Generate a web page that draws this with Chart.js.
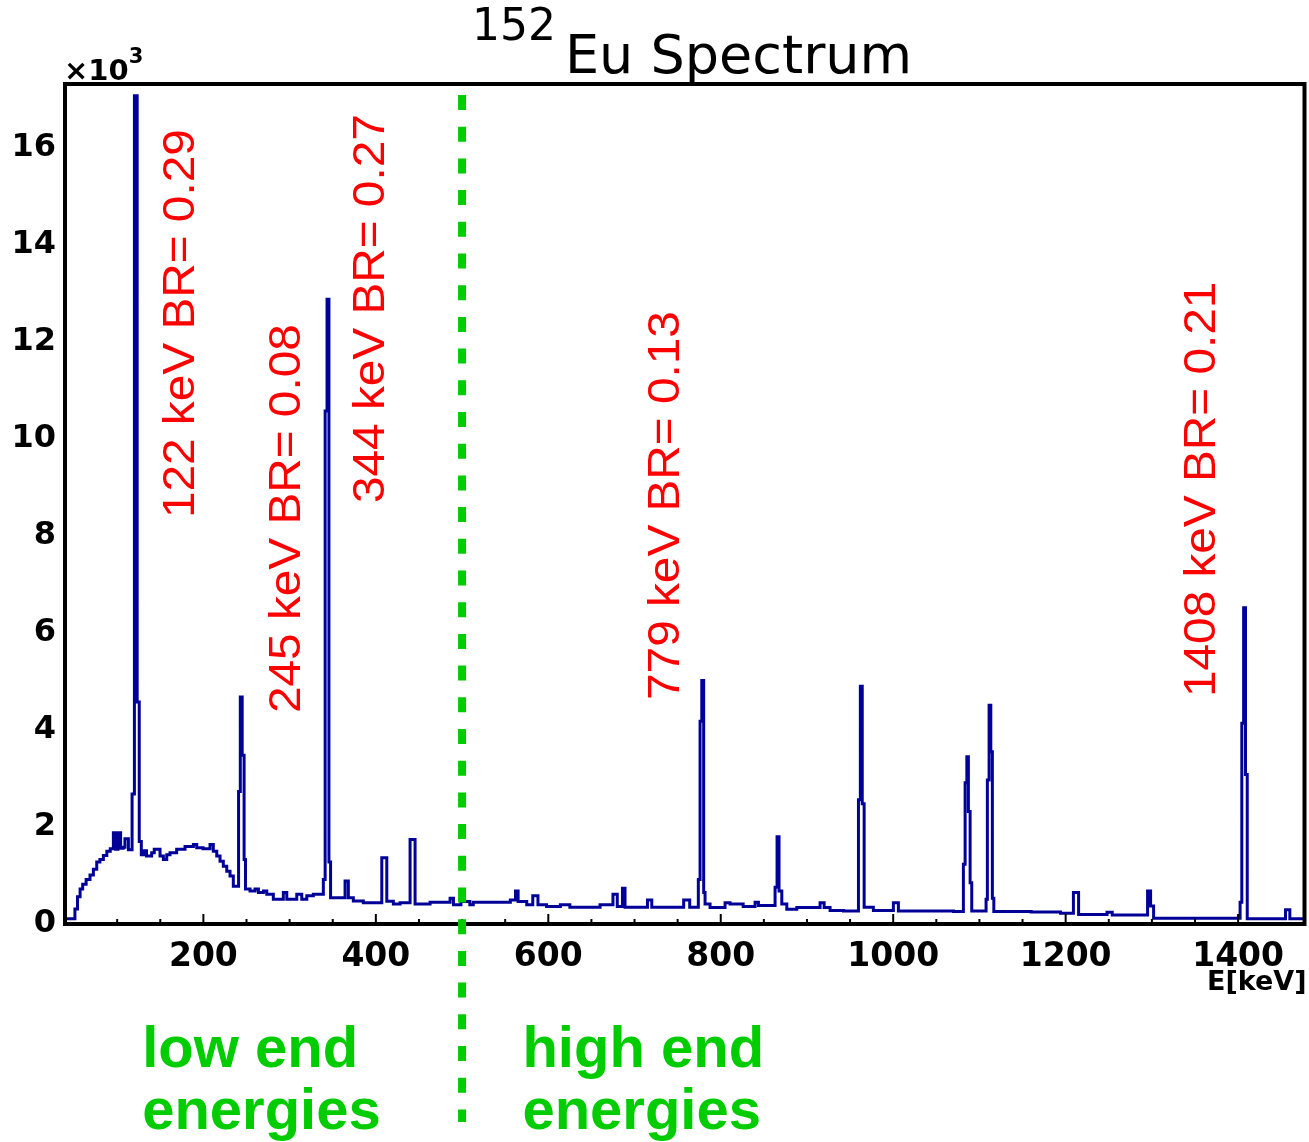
<!DOCTYPE html>
<html>
<head>
<meta charset="utf-8">
<title>152Eu Spectrum</title>
<script src="https://cdn.jsdelivr.net/npm/chart.js@4.4.1/dist/chart.umd.min.js"></script>
<style>
  body { margin: 0; background: #fff; }
  canvas { display: block; }
</style>
</head>
<body>
<canvas id="spectrum" width="1309" height="1142"></canvas>
<script>
// bin left edges [keV] and bin contents [counts]
const energies = [
  39.5, 51, 54, 57, 60, 64, 68.5, 72.4, 76.3, 80,
  84, 88, 92, 95.6, 98, 101, 104, 107, 109, 113,
  117.3, 120, 123.2, 125.6, 128, 131.5, 134, 140, 143, 149.7,
  153.6, 157.5, 161.3, 169, 178.7, 188.4, 192.3, 199.6, 207.7, 211.5,
  215.5, 219.3, 223.1, 227.1, 230.9, 234.7, 240.8, 242.8, 245, 247.2,
  248.8, 254.1, 259.9, 263.8, 269.6, 273.5, 281.1, 292.7, 296.7, 308.3,
  314.1, 319.9, 327.5, 339.1, 341.2, 343.4, 345.6, 347.5, 364.3, 368.1,
  373.9, 385.5, 406.9, 412.7, 420.3, 428.1, 439.7, 445.5, 462.9, 486.1,
  490, 498.7, 509, 513, 556, 562, 565, 575, 582, 588,
  598, 614, 625, 660, 675, 680, 686, 689, 715, 720,
  757, 764, 774, 776, 778, 780.2, 781.8, 787.6, 805, 810.8,
  826, 839.8, 843.7, 863, 865.3, 867.6, 870.8, 876.6, 888.2, 915.2,
  919.9, 926.8, 942.3, 959.7, 961.9, 964.1, 966.3, 977, 1000.2, 1006,
  1070, 1081.4, 1083.4, 1085.4, 1087.2, 1089.2, 1091.1, 1107.7, 1109.2, 1111.2,
  1113.2, 1115, 1116.7, 1160, 1194, 1209, 1215, 1248, 1254, 1295,
  1298.5, 1302, 1402.3, 1404.3, 1406.4, 1408.6, 1410.6, 1455, 1460, 1477,
];
const counts = [
  30, 230, 480, 640, 740, 840, 930, 1050, 1200, 1250,
  1330, 1420, 1470, 1800, 1460, 1800, 1480, 1500, 1680, 1450,
  2600, 17000, 4500, 1620, 1350, 1430, 1320, 1390, 1460, 1320,
  1250, 1350, 1390, 1460, 1520, 1560, 1490, 1470, 1560, 1420,
  1320, 1215, 1110, 1010, 910, 700, 2650, 4600, 3400, 1250,
  640, 600, 640, 570, 600, 535, 430, 570, 430, 535,
  430, 500, 535, 840, 10500, 12800, 1200, 460, 805, 460,
  395, 360, 1285, 390, 330, 360, 1660, 330, 370, 450,
  315, 385, 315, 370, 415, 600, 385, 315, 500, 315,
  280, 315, 265, 315, 535, 280, 655, 265, 415, 265,
  415, 265, 840, 4100, 4940, 570, 330, 260, 360, 330,
  280, 370, 300, 680, 1720, 600, 330, 225, 260, 360,
  260, 200, 190, 2480, 4820, 2400, 265, 200, 360, 190,
  180, 1150, 2830, 3370, 2240, 770, 190, 430, 2890, 4430,
  3470, 450, 180, 165, 140, 570, 115, 160, 105, 600,
  290, 40, 370, 4060, 6440, 3000, 30, 215, 30, 30,
];
const xTickLabels = ["200", "400", "600", "800", "1000", "1200", "1400"];
const yTickLabels = ["0", "2", "4", "6", "8", "10", "12", "14", "16"];
const peakLabels = [
  "122 keV BR= 0.29",
  "245 keV BR= 0.08",
  "344 keV BR= 0.27",
  "779 keV BR= 0.13",
  "1408 keV BR= 0.21",
];
const regionLabels = [["low end", "energies"], ["high end", "energies"]];
const splitEnergy = 500;

const histPoints = energies.map((e, i) => ({ x: e, y: counts[i] }));

// where the rotated peak notes sit, in keV / counts
const peakNotePos = [
  { x: 188.6, y: 8290 },
  { x: 312, y: 4270 },
  { x: 409.5, y: 8600 },
  { x: 751.5, y: 4540 },
  { x: 1373.5, y: 4600 },
];

const boldFont = "'DejaVu Sans', sans-serif";

const rootFramePlugin = {
  id: "rootFrame",
  afterDatasetsDraw(chart) {
    const { ctx, chartArea: area } = chart;
    const xScale = chart.scales.x;
    const yScale = chart.scales.y;
    ctx.save();

    // inward ticks
    ctx.strokeStyle = "#000";
    ctx.lineWidth = 2;
    ctx.beginPath();
    xScale.ticks.forEach((t) => {
      if (t.value % 50 !== 0) return;
      const px = xScale.getPixelForValue(t.value);
      const len = t.value % 200 === 0 ? 10 : 5;
      ctx.moveTo(px, area.bottom);
      ctx.lineTo(px, area.bottom - len);
    });
    yScale.ticks.forEach((t) => {
      if (t.value < 0 || t.value % 500 !== 0) return;
      const py = yScale.getPixelForValue(t.value);
      const len = t.value % 2000 === 0 ? 17 : 9;
      ctx.moveTo(area.left, py);
      ctx.lineTo(area.left + len, py);
    });
    ctx.stroke();

    // frame
    ctx.lineWidth = 4;
    ctx.strokeRect(area.left, area.top, area.right - area.left, area.bottom - area.top);

    // tick labels
    ctx.fillStyle = "#000";
    ctx.font = "bold 33px " + boldFont;
    ctx.textAlign = "center";
    ctx.textBaseline = "alphabetic";
    xTickLabels.forEach((lab) => {
      ctx.fillText(lab, xScale.getPixelForValue(Number(lab)), area.bottom + 42);
    });
    ctx.font = "bold 32px " + boldFont;
    ctx.textAlign = "right";
    yTickLabels.forEach((lab) => {
      ctx.fillText(lab, area.left - 9, yScale.getPixelForValue(Number(lab) * 1000) + 12);
    });

    // x10^3
    ctx.textAlign = "left";
    ctx.font = "bold 29px " + boldFont;
    ctx.fillText("\u00d710", area.left - 1, area.top - 4);
    const w = ctx.measureText("\u00d710").width;
    ctx.font = "bold 21px " + boldFont;
    ctx.fillText("3", area.left - 1 + w, area.top - 21);

    // axis title
    ctx.font = "bold 27px " + boldFont;
    ctx.textAlign = "right";
    ctx.fillText("E[keV]", area.right + 2, area.bottom + 66);

    // title
    ctx.textAlign = "left";
    ctx.font = "44px " + boldFont;
    ctx.fillText("152", 472, 40);
    ctx.font = "54px " + boldFont;
    ctx.fillText("Eu Spectrum", 565, 73);

    // peak notes
    ctx.fillStyle = "#ff0000";
    ctx.font = "44px 'Liberation Sans', Arial, sans-serif";
    peakLabels.forEach((txt, i) => {
      const p = peakNotePos[i];
      ctx.save();
      ctx.translate(xScale.getPixelForValue(p.x), yScale.getPixelForValue(p.y));
      ctx.rotate(-Math.PI / 2);
      ctx.scale(1.085, 1);
      ctx.textAlign = "left";
      ctx.fillText(txt, 0, 0);
      ctx.restore();
    });

    // split line
    const sx = xScale.getPixelForValue(splitEnergy);
    ctx.strokeStyle = "#00cc00";
    ctx.lineWidth = 8;
    ctx.setLineDash([15, 16.7]);
    ctx.beginPath();
    ctx.moveTo(sx, area.top + 11);
    ctx.lineTo(sx, chart.height - 20);
    ctx.stroke();
    ctx.setLineDash([]);

    // region notes
    ctx.fillStyle = "#00cc00";
    ctx.font = "bold 58px 'Liberation Sans', Arial, sans-serif";
    ctx.textAlign = "left";
    const regionX = [xScale.getPixelForValue(129), xScale.getPixelForValue(570)];
    regionLabels.forEach((lines, i) => {
      ctx.fillText(lines[0], regionX[i], area.bottom + 143);
      ctx.fillText(lines[1], regionX[i], area.bottom + 205);
    });

    ctx.restore();
  },
};

const spectrumRef = document.getElementById("spectrum");
const spectrumChart = new Chart(spectrumRef, {
  type: "line",
  data: {
    datasets: [
      {
        label: "152Eu",
        data: histPoints,
        stepped: true,
        borderColor: "#000099",
        borderWidth: 3,
        pointRadius: 0,
        fill: false,
      },
    ],
  },
  options: {
    responsive: false,
    animation: false,
    devicePixelRatio: 1,
    events: [],
    layout: {
      padding: { left: 65, right: 4.5, top: 84, bottom: 218 },
    },
    scales: {
      x: {
        type: "linear",
        display: false,
        min: 39.5,
        max: 1477,
        ticks: { stepSize: 50, autoSkip: false },
      },
      y: {
        type: "linear",
        display: false,
        min: -80,
        max: 17240,
        ticks: { stepSize: 500, autoSkip: false },
      },
    },
    plugins: {
      legend: { display: false },
      tooltip: { enabled: false },
    },
  },
  plugins: [rootFramePlugin],
});
</script>
</body>
</html>
